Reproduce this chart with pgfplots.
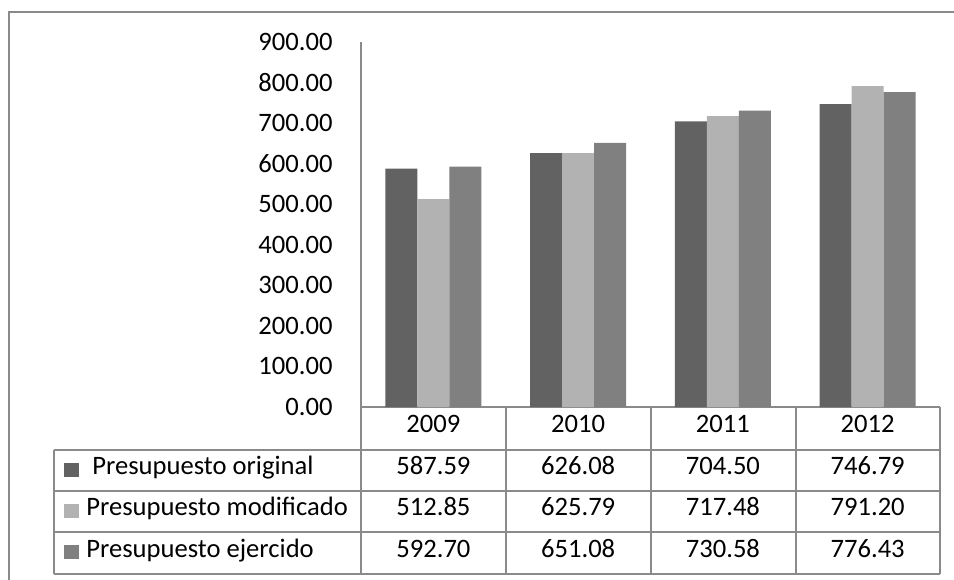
\documentclass[border=0pt]{standalone}
\usepackage{fontspec}
\setmainfont{Carlito}
\usepackage{pgfplots}
\usepackage{pgfplotstable}
\pgfplotsset{compat=1.18}

\definecolor{cOrig}{HTML}{626262}
\definecolor{cMod}{HTML}{B2B2B2}
\definecolor{cEje}{HTML}{808080}
\definecolor{rule}{HTML}{8A8A8A}

% Budget by year (millions)
\pgfplotstableread{
x year orig   mod    eje
0 2009 587.59 512.85 592.70
1 2010 626.08 625.79 651.08
2 2011 704.50 717.48 730.58
3 2012 746.79 791.20 776.43
}\budget

\pgfkeys{/pgf/number format/assume math mode=true}

\begin{document}
\begin{tikzpicture}[font=\fontsize{13.3}{16}\selectfont]
\useasboundingbox (0,0) rectangle (477pt,-289.5pt);

\begin{axis}[
  at={(180.5pt,-203.5pt)}, anchor=south west,
  scale only axis, width=289.5pt, height=182.5pt,
  xmin=-0.5, xmax=3.5, ymin=0, ymax=900,
  ytick={0,100,...,900}, xtick=\empty,
  axis y line*=left, axis x line*=bottom,
  axis line style={draw=rule, line width=0.7pt},
  major tick length=0pt,
  y tick label style={anchor=east, inner sep=0pt, xshift=-14pt,
    /pgf/number format/fixed, /pgf/number format/fixed zerofill,
    /pgf/number format/precision=2, /pgf/number format/1000 sep={}},
  ybar, bar width=16pt,
  clip=false,
]
\addplot[fill=cOrig, draw=none, bar shift=-16pt] table[x=x, y=orig] {\budget};
\addplot[fill=cMod,  draw=none, bar shift=0pt]   table[x=x, y=mod]  {\budget};
\addplot[fill=cEje,  draw=none, bar shift=16pt]  table[x=x, y=eje]  {\budget};
\end{axis}

% data table under the plot, in pixel-like units
\begin{scope}[x=0.5pt, y=-0.5pt]
  % outer frame
  \draw[rule, line width=0.75pt] (960,12) -- (9,12) -- (9,590);
  % table grid
  \begin{scope}[rule, line width=0.7pt]
    \foreach \yy in {450,491,532,574} \draw (54,\yy) -- (940,\yy);
    \draw (54,450) -- (54,574);
    \foreach \xx in {361,506,651,796,940} \draw (\xx,407) -- (\xx,574);
  \end{scope}
  % legend keys and row names
  \fill[cOrig] (64,463) rectangle (79,477);
  \fill[cMod]  (64,504) rectangle (79,518);
  \fill[cEje]  (64,545) rectangle (79,559);
  \node[anchor=mid west, inner sep=0pt] at (92,470) {Presupuesto original};
  \node[anchor=mid west, inner sep=0pt] at (86,511) {Presupuesto modificado};
  \node[anchor=mid west, inner sep=0pt] at (86,553) {Presupuesto ejercido};
  % cell values
  \foreach \r in {0,...,3} {
    \pgfmathsetmacro{\cx}{433.4+144.75*\r}
    \pgfplotstablegetelem{\r}{year}\of\budget
    \node[anchor=mid] at (\cx,428) {\pgfplotsretval};
    \foreach \col/\cy in {orig/470,mod/511,eje/553} {
      \pgfplotstablegetelem{\r}{\col}\of\budget
      \node[anchor=mid] at (\cx,\cy)
        {\pgfmathprintnumber[fixed,fixed zerofill,precision=2,1000 sep={}]{\pgfplotsretval}};
    }
  }
\end{scope}
\end{tikzpicture}
\end{document}
